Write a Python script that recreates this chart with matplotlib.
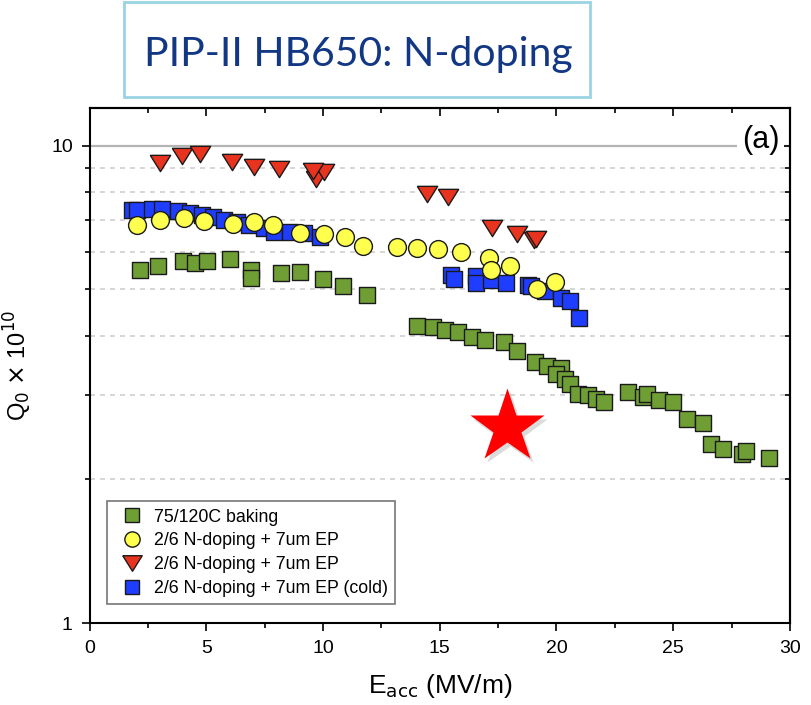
import numpy as np
import matplotlib.pyplot as plt
from matplotlib.patches import Rectangle
from matplotlib.lines import Line2D
from matplotlib.transforms import ScaledTranslation

plt.rcParams['font.family'] = ['Liberation Sans', 'DejaVu Sans']

# 75/120C baking
bake_E = [2.17, 2.94, 4.01, 4.53, 5.04, 6.03, 6.9, 6.9, 8.18, 9.03, 9.98, 10.84, 11.9,
          14.04, 14.73, 15.23, 15.8, 16.4, 16.95, 17.76, 18.33, 19.09, 19.6, 20.19, 20.0,
          20.38, 20.6, 20.94, 21.34, 21.7, 22.03, 23.06, 23.7, 23.88, 24.41, 25.01, 25.6,
          26.27, 26.6, 27.13, 27.95, 28.1, 29.1]
bake_Q = [5.50, 5.60, 5.74, 5.68, 5.74, 5.80, 5.50, 5.28, 5.42, 5.43, 5.26, 5.09, 4.87,
          4.19, 4.18, 4.11, 4.08, 3.97, 3.92, 3.88, 3.72, 3.53, 3.45, 3.42, 3.33,
          3.25, 3.17, 3.02, 3.00, 2.95, 2.91, 3.05, 2.98, 3.02, 2.93, 2.90, 2.67,
          2.62, 2.37, 2.32, 2.26, 2.29, 2.22]

# 2/6 N-doping + 7um EP (yellow)
ndop_E = [2.03, 3.03, 4.03, 4.89, 6.15, 7.03, 7.86, 9.0, 10.03, 10.94, 11.72,
          13.15, 14.04, 14.93, 15.93, 17.12, 17.19, 18.0, 19.94, 19.15]
ndop_Q = [6.83, 6.98, 7.07, 6.96, 6.85, 6.92, 6.82, 6.56, 6.53, 6.45, 6.17,
          6.13, 6.10, 6.07, 6.00, 5.81, 5.48, 5.61, 5.19, 5.01]

# 2/6 N-doping + 7um EP (red)
ndop2_E = [3.0, 3.98, 4.74, 6.1, 7.03, 8.1, 9.68, 10.03, 9.58,
           14.44, 15.37, 17.22, 18.3, 19.02, 19.12]
ndop2_Q = [9.20, 9.54, 9.62, 9.27, 9.02, 8.92, 8.53, 8.82, 8.87,
           7.93, 7.81, 6.71, 6.53, 6.35, 6.37]

# 2/6 N-doping + 7um EP (cold)
cold_E = [1.81, 2.03, 2.67, 3.1, 3.81, 4.31, 4.82, 5.3, 5.74, 6.32, 6.82, 7.46, 7.89,
          8.6, 9.18, 9.89,
          15.47, 15.61, 16.55, 16.55, 17.19, 17.83, 18.76, 18.9, 19.53, 20.19, 20.59, 20.95]
cold_Q = [7.32, 7.32, 7.38, 7.37, 7.31, 7.22, 7.17, 7.08, 7.00, 6.91, 6.83, 6.72, 6.61,
          6.61, 6.56, 6.45,
          5.37, 5.26, 5.34, 5.15, 5.24, 5.15, 5.11, 5.08, 4.97, 4.79, 4.72, 4.35]

star_E = [17.9]
star_Q = [2.58]

labels = ['75/120C baking', '2/6 N-doping + 7um EP',
          '2/6 N-doping + 7um EP', '2/6 N-doping + 7um EP (cold)']

green = '#6f9e35'
yellow = '#ffff4d'
red = '#e8341f'
blue = '#1f3dff'
edge = '#1a1a1a'

# down triangle a bit wider than tall, like the original
tri = [(-1, 0.8), (1, 0.8), (0, -0.8), (-1, 0.8)]

fig = plt.figure(figsize=(8.11, 7.05), dpi=100)
ax = fig.add_axes([0.1104, 0.1163, 0.8636, 0.7305])

ax.set_yscale('log')
ax.set_xlim(0, 30)
ax.set_ylim(1, 12)

# grid: solid at the decade, dashed at minors
ax.axhline(10, color='#b4b4b4', lw=1.6, zorder=0)
for v in range(2, 10):
    ax.axhline(v, color='#cfcfcf', lw=1.2, ls=(0, (3, 3)), zorder=0)

ax.scatter(bake_E, bake_Q, marker='s', s=120, c=green, edgecolors=edge, linewidths=1, zorder=3)
ax.scatter(cold_E, cold_Q, marker='s', s=120, c=blue, edgecolors=edge, linewidths=1, zorder=3)
ax.scatter(ndop_E, ndop_Q, marker='o', s=165, c=yellow, edgecolors=edge, linewidths=1, zorder=4)
ax.scatter(ndop2_E, ndop2_Q, marker=tri, s=215, c=red, edgecolors=edge, linewidths=1, zorder=5)

# star with a soft shadow
shadow = ax.transData + ScaledTranslation(2 / 72, -3 / 72, fig.dpi_scale_trans)
ax.plot(star_E, star_Q, marker='*', ms=56, color='#999999', alpha=0.35, mec='none',
        transform=shadow, zorder=5)
ax.plot(star_E, star_Q, marker='*', ms=56, color='#ff0000', mec='none', zorder=6)

ax.set_xticks([0, 5, 10, 15, 20, 25, 30])
ax.set_xticks(np.arange(2.5, 30, 5), minor=True)
ax.set_yticks([1, 10])
ax.set_yticklabels(['1', '10'])
ax.yaxis.set_minor_formatter(plt.NullFormatter())
ax.tick_params(which='major', direction='out', length=6, width=1.2, labelsize=14, pad=6)
ax.tick_params(which='minor', direction='out', length=3.5, width=1.2)

top = ax.secondary_xaxis('top')
top.set_xticks([0, 5, 10, 15, 20, 25, 30])
top.set_xticks(np.arange(2.5, 30, 5), minor=True)
top.tick_params(which='major', direction='in', length=6, width=1.2, labeltop=False)
top.tick_params(which='minor', direction='in', length=3.5, width=1.2)
right = ax.secondary_yaxis('right')
right.tick_params(which='major', direction='in', length=6, width=1.2, labelright=False)
right.tick_params(which='minor', direction='in', length=3.5, width=1.2)
right.yaxis.set_minor_formatter(plt.NullFormatter())

for sp in list(ax.spines.values()) + [top.spines['top'], right.spines['right']]:
    sp.set_linewidth(1.5)

ax.set_xlabel(r'E$_{\mathrm{acc}}$ (MV/m)', fontsize=19, labelpad=11)
ax.set_ylabel(r'Q$_0$ $\times$ 10$^{10}$', fontsize=17, labelpad=12)

ax.text(0.958, 0.938, '(a)', transform=ax.transAxes, fontsize=22, ha='center', va='center',
        bbox=dict(facecolor='white', edgecolor='none', pad=3), zorder=6)

handles = [
    Line2D([], [], ls='none', marker='s', ms=10, mfc=green, mec=edge, mew=1),
    Line2D([], [], ls='none', marker='o', ms=11, mfc=yellow, mec=edge, mew=1),
    Line2D([], [], ls='none', marker=tri, ms=14, mfc=red, mec=edge, mew=1),
    Line2D([], [], ls='none', marker='s', ms=10, mfc=blue, mec=edge, mew=1),
]
leg = ax.legend(handles, labels, loc='lower left', bbox_to_anchor=(0.025, 0.037),
                fontsize=12.8, frameon=True, fancybox=False, borderaxespad=0,
                labelspacing=0.38, handletextpad=0.25, handlelength=2.0, borderpad=0.4)
leg.get_frame().set_edgecolor('#555555')
leg.get_frame().set_linewidth(1.2)

# title box
fig.patches.append(Rectangle((0.153, 0.862), 0.5745, 0.135, transform=fig.transFigure,
                             fill=False, edgecolor='#9ad3e4', lw=2))
fig.text(0.4418, 0.907, 'PIP-II HB650: N-doping', fontsize=29.5, family='Lato',
         color='#123784', ha='center', va='baseline')

fig.savefig('out.png', dpi=100)
